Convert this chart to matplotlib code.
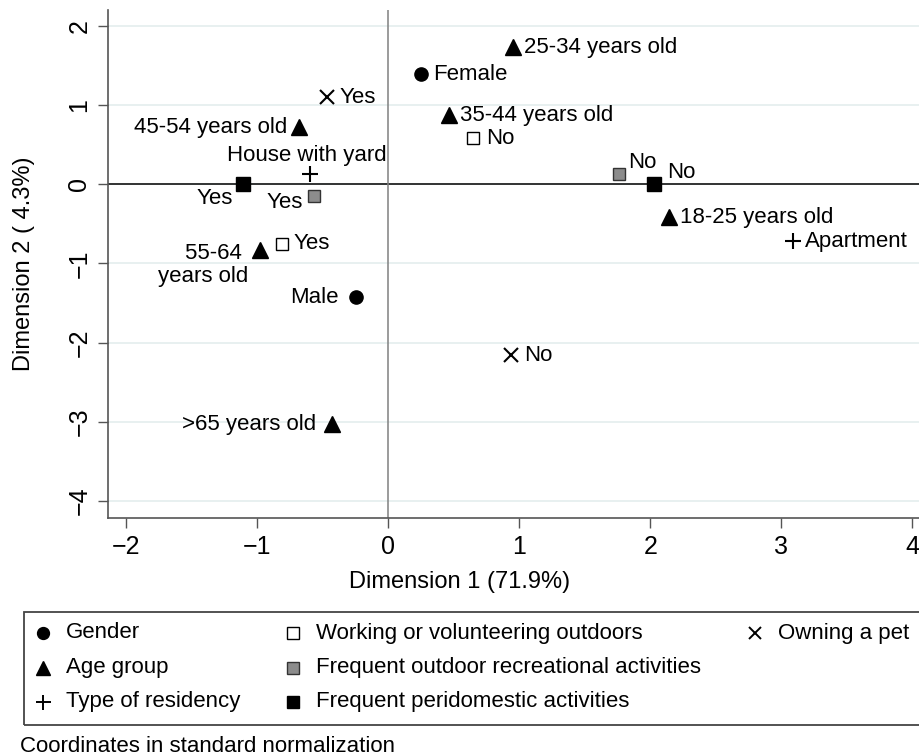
import matplotlib
matplotlib.use("Agg")
import matplotlib.pyplot as plt
from matplotlib.lines import Line2D
from matplotlib.patches import Rectangle

# ---------------- data (coordinates in standard normalization) ----------------
gender_lab = ["Female", "Male"]
gender_x = [0.25, -0.25]
gender_y = [1.39, -1.43]

age_lab = ["18-25 years old", "25-34 years old", "35-44 years old",
           "45-54 years old", "55-64 \nyears old", ">65 years old"]
age_x = [2.14, 0.95, 0.46, -0.68, -0.98, -0.43]
age_y = [-0.42, 1.73, 0.87, 0.72, -0.83, -3.03]

resid_lab = ["House with yard", "Apartment"]
resid_x = [-0.60, 3.09]
resid_y = [0.13, -0.72]

work_lab = ["Yes", "No"]
work_x = [-0.81, 0.65]
work_y = [-0.75, 0.58]

recr_lab = ["Yes", "No"]
recr_x = [-0.57, 1.76]
recr_y = [-0.15, 0.13]

peri_lab = ["Yes", "No"]
peri_x = [-1.11, 2.03]
peri_y = [0.0, 0.0]

pet_lab = ["Yes", "No"]
pet_x = [-0.47, 0.94]
pet_y = [1.10, -2.16]

legend_names = ["Gender", "Age group", "Type of residency",
                "Working or volunteering outdoors",
                "Frequent outdoor recreational activities",
                "Frequent peridomestic activities", "Owning a pet"]

# ---------------- styling ----------------
plt.rcParams["font.family"] = ["Liberation Sans", "DejaVu Sans"]

# marker style per group: (marker, size, face, edge)
styles = {
    "gender": ("o", 9.5, "black", "black"),
    "age": ("^", 11.5, "black", "black"),
    "resid": ("+", 12, "black", "black"),
    "work": ("s", 9, "white", "black"),
    "recr": ("s", 9, "#8c8c8c", "#333333"),
    "peri": ("s", 10, "black", "black"),
    "pet": ("x", 10, "black", "black"),
}

# label placement: (dx, dy) in points, ha, va
R = (8.5, 0, "left", "center")
L = (-8.5, 0, "right", "center")
label_pos = {
    "gender": [R, (-12, 0, "right", "center")],
    "age": [R, R, R, L, (-8.5, -11, "right", "center"), (-11.5, 0, "right", "center")],
    "resid": [(-2, 13, "center", "center"), R],
    "work": [(8, 0, "left", "center"), (9, 0, "left", "center")],
    "recr": [(-8, -4.5, "right", "center"), (7, 8, "left", "center")],
    "peri": [(-7, -10, "right", "center"), (9, 8.5, "left", "center")],
    "pet": [(9, 0, "left", "center"), (9, 0, "left", "center")],
}

groups = [
    ("gender", gender_x, gender_y, gender_lab),
    ("age", age_x, age_y, age_lab),
    ("resid", resid_x, resid_y, resid_lab),
    ("work", work_x, work_y, work_lab),
    ("recr", recr_x, recr_y, recr_lab),
    ("peri", peri_x, peri_y, peri_lab),
    ("pet", pet_x, pet_y, pet_lab),
]

W, H = 920, 756
fig = plt.figure(figsize=(W / 100, H / 100), dpi=100)
ax = fig.add_axes([108 / W, 1 - 518 / H, 1 - 108 / W, (518 - 10) / H])
ax.set_xlim(-2.14, 4.06)
ax.set_ylim(-4.215, 2.2)

for v in range(-4, 3):
    ax.axhline(v, color="#e4eded", lw=1.2, zorder=0)
ax.axhline(0, color="black", lw=1.1, zorder=1)
ax.axvline(0, color="#808080", lw=1.1, zorder=1)

for key, xs, ys, labs in groups:
    m, ms, fc, ec = styles[key]
    mew = 1.5 if m in "+x" else 1.0
    ax.plot(xs, ys, linestyle="none", marker=m, markersize=ms,
            markerfacecolor=fc, markeredgecolor=ec, markeredgewidth=mew, zorder=3)
    for xv, yv, lab, (dx, dy, ha, va) in zip(xs, ys, labs, label_pos[key]):
        ax.annotate(lab, (xv, yv), xytext=(dx, dy), textcoords="offset points",
                    ha=ha, va=va, fontsize=16, multialignment="right",
                    linespacing=1.1, zorder=4)

for s in ["top", "right"]:
    ax.spines[s].set_visible(False)
for s in ["left", "bottom"]:
    ax.spines[s].set_color("#555555")
    ax.spines[s].set_linewidth(1.2)

ax.set_xticks(range(-2, 5))
ax.set_yticks(range(-4, 3))
ax.tick_params(axis="both", direction="out", length=7, width=1, color="#555555",
               labelsize=18, pad=5)
for t in ax.get_yticklabels():
    t.set_rotation(90)
    t.set_va("center")
ax.set_xlabel("Dimension 1 (71.9%)", fontsize=17, va="center")
ax.set_ylabel("Dimension 2 ( 4.3%)", fontsize=17, va="center")
ax.xaxis.set_label_coords((460 - 108) / (W - 108), -(582 - 518) / (518 - 10))
ax.yaxis.set_label_coords(-(108 - 24) / (W - 108), 0.5)

# ---------------- legend box ----------------
fig.add_artist(Rectangle((24 / W, 1 - 725 / H), (940 - 24) / W, (725 - 612) / H,
                         transform=fig.transFigure, fill=False,
                         edgecolor="#444444", lw=1.3))
col_marker_x = [43, 293, 755]
col_text_x = [66, 316, 778]
row_y = [633, 668, 702]
order = ["gender", "age", "resid", "work", "recr", "peri", "pet"]
for i, (key, name) in enumerate(zip(order, legend_names)):
    c, r = i // 3, i % 3
    m, ms, fc, ec = styles[key]
    mew = 1.4 if m in "+x" else 1.0
    fig.add_artist(Line2D([col_marker_x[c] / W], [1 - row_y[r] / H],
                          transform=fig.transFigure, linestyle="none", marker=m,
                          markersize=ms * 0.9, markerfacecolor=fc, markeredgecolor=ec,
                          markeredgewidth=mew))
    fig.text(col_text_x[c] / W, 1 - row_y[r] / H, name, ha="left", va="center",
             fontsize=16)

fig.text(20 / W, 1 - 747 / H, "Coordinates in standard normalization",
         ha="left", va="center", fontsize=16)

fig.savefig("out.png", dpi=100)
